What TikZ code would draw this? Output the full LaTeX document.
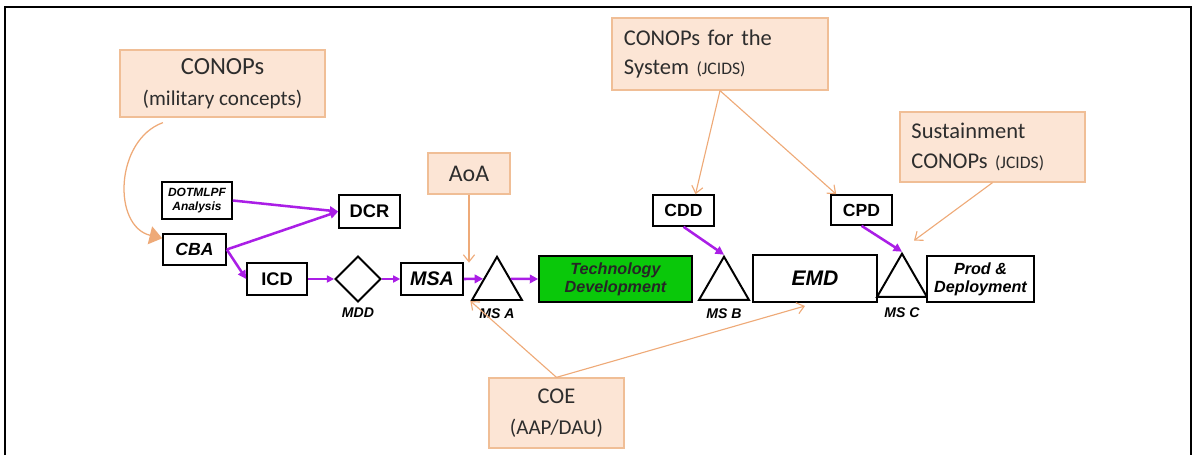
\documentclass[tikz,border=0pt]{standalone}
\usepackage{fontspec}
\setmainfont{Liberation Sans}
\newfontfamily\calib{Carlito}
\usepackage{tikz}
\usetikzlibrary{arrows.meta}
\usetikzlibrary{shapes.geometric}
\usetikzlibrary{calc}
\usetikzlibrary{positioning}

\definecolor{purp}{RGB}{170,30,230}
\definecolor{orfill}{RGB}{252,229,213}
\definecolor{orline}{RGB}{240,190,150}
\definecolor{orarr}{RGB}{238,170,120}
\definecolor{txtgray}{RGB}{45,45,45}
\definecolor{tdgreen}{RGB}{10,200,10}

\begin{document}
\begin{tikzpicture}[x=0.025cm,y=-0.025cm,
  frame/.style={line width=1.6pt},
  blk/.style={draw=black, line width=1.1pt, fill=white, inner sep=0pt, align=center},
  peach/.style={draw=orline, line width=0.9pt, fill=orfill, inner sep=0pt, text=txtgray},
  ms/.style={draw=black, line width=1.4pt, regular polygon, regular polygon sides=3,
    minimum size=1.44cm, inner sep=0pt},
  mslab/.style={font=\bfseries\itshape\fontsize{10}{11}\selectfont, inner sep=0pt},
  purarrow/.style={draw=purp, line width=1.8pt, -{Triangle[length=6pt,width=6pt]}},
  purthin/.style={draw=purp, line width=1.1pt, -{Triangle[length=5pt,width=5pt]}},
  orarrow/.style={draw=orarr, line width=0.8pt, -{Straight Barb[length=5pt,width=8pt]}},
  orcurve/.style={draw=orarr, line width=0.9pt, -{Triangle[length=9pt,width=13pt]}}
]
  \useasboundingbox (0,0) rectangle (1193,455);
  \draw[frame] (5,455) -- (5,7) -- (1191,7) -- (1191,455);

  % orange boxes
  \node[peach, minimum width=5.125cm, minimum height=1.675cm, align=center,
    font=\calib\fontsize{17.5}{22}\selectfont] (conops) at (222.5,83.5)
    {CONOPs\\{\fontsize{15}{22}\selectfont (military concepts)}};
  \node[peach, minimum width=2.05cm, minimum height=1.025cm,
    font=\calib\fontsize{17}{18}\selectfont] (aoa) at (469,173.5) {AoA};
  \node[peach, minimum width=5.4cm, minimum height=1.8cm, text width=4.8cm, align=left,
    font=\calib\fontsize{16}{21}\selectfont] (sys) at (720,54)
    {CONOPs for the\\System {\fontsize{12.5}{21}\selectfont (JCIDS)}};
  \node[peach, minimum width=4.625cm, minimum height=1.75cm, text width=4.05cm, align=left,
    font=\calib\fontsize{16}{21}\selectfont] (sust) at (992.5,147)
    {Sustainment\\CONOPs {\fontsize{12.5}{21}\selectfont (JCIDS)}};
  \node[peach, minimum width=3.375cm, minimum height=1.75cm, align=center,
    font=\calib\fontsize{16}{22}\selectfont] (coe) at (556.5,413)
    {COE\\{\fontsize{15}{22}\selectfont (AAP/DAU)}};

  % process boxes
  \node[blk, minimum width=1.75cm, minimum height=0.925cm,
    font=\bfseries\itshape\fontsize{8.5}{9.5}\selectfont] (dotmlpf) at (197,200.5) {DOTMLPF\\Analysis};
  \node[blk, minimum width=1.575cm, minimum height=0.775cm,
    font=\bfseries\itshape\fontsize{12.5}{14}\selectfont] (cba) at (194.5,249.5) {CBA};
  \node[blk, minimum width=1.525cm, minimum height=0.825cm,
    font=\bfseries\fontsize{13}{14}\selectfont] (dcr) at (369.5,211.5) {DCR};
  \node[blk, minimum width=1.5cm, minimum height=0.8cm,
    font=\bfseries\fontsize{13}{14}\selectfont] (icd) at (277,279) {ICD};
  \node[draw, diamond, line width=1.4pt, minimum size=1.15cm, inner sep=0pt,
    label={[mslab,label distance=3.5pt]below:MDD}] (mdd) at (358,279) {};
  \node[blk, minimum width=1.55cm, minimum height=0.8cm,
    font=\bfseries\itshape\fontsize{14}{15}\selectfont] (msa) at (432,279) {MSA};
  \node[ms, label={[mslab,label distance=5pt]below:MS A}] (msA) at (497,285.6) {};
  \node[blk, fill=tdgreen, minimum width=3.825cm, minimum height=1.15cm, text=black!85,
    font=\bfseries\itshape\fontsize{11.5}{13}\selectfont] (techdev) at (615.5,279) {Technology\\Development};
  \node[ms, label={[mslab,label distance=5pt]below:MS B}] (msB) at (724,285.5) {};
  \node[blk, minimum width=3.1cm, minimum height=1.175cm,
    font=\bfseries\itshape\fontsize{15}{16}\selectfont] (emd) at (815,278.5) {EMD};
  \node[ms, label={[mslab,label distance=7pt]below:MS C}] (msC) at (902,282.5) {};
  \node[blk, minimum width=2.675cm, minimum height=1.15cm,
    font=\bfseries\itshape\fontsize{11.5}{13}\selectfont] (prod) at (980.5,279) {Prod \&\\Deployment};
  \node[blk, minimum width=1.525cm, minimum height=0.775cm,
    font=\bfseries\fontsize{12.5}{14}\selectfont] (cdd) at (683.5,210.5) {CDD};
  \node[blk, minimum width=1.525cm, minimum height=0.75cm,
    font=\bfseries\fontsize{12.5}{14}\selectfont] (cpd) at (861.5,210) {CPD};

  % purple flow
  \draw[purarrow] (dotmlpf.east) -- (dcr.west);
  \draw[purarrow] (cba.east) -- (dcr.west);
  \draw[purarrow] (cba.east) -- (icd.west);
  \draw[purthin] (icd) -- (mdd);
  \draw[purthin] (mdd) -- (msa);
  \draw[purarrow] (msa.east) -- ($(msA.corner 2)!0.48!(msA.corner 1)$);
  \draw[purarrow] ($(msA.corner 3)!0.48!(msA.corner 1)$) -- (techdev.west);
  \draw[purarrow] (cdd.south) -- (msB.corner 1);
  \draw[purarrow] (cpd.south) -- (msC.corner 1);

  % orange inputs
  \draw[orcurve] ([xshift=-1.49cm,yshift=-0.125cm]conops.south)
    .. controls (115,140) and (112,226) .. ([yshift=0.28cm]cba.west);
  \draw[orarrow] (aoa.south) -- ++(0,68);
  \draw[orarrow] (sys.south) -- ([xshift=0.3cm]cdd.north);
  \draw[orarrow] (sys.south) -- ([xshift=0.15cm]cpd.north west);
  \draw[orarrow] (sust.south) -- ([xshift=0.3cm,yshift=0.28cm]msC.corner 1);
  \draw[orarrow] (coe.north) -- (msA.corner 2);
  \draw[orarrow] (coe.north) -- ([xshift=-0.25cm,yshift=-0.08cm]emd.south);
\end{tikzpicture}
\end{document}
